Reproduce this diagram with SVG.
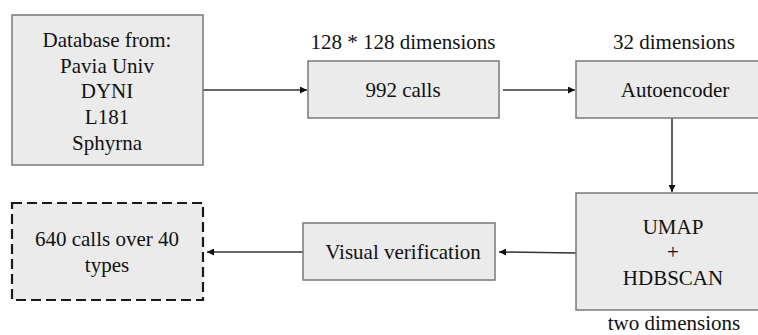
<svg xmlns="http://www.w3.org/2000/svg" width="758" height="335" viewBox="0 0 758 335">
<style>
.box{fill:#ebebeb;stroke:#7a7a7a;stroke-width:1.5}
.dash{fill:#ebebeb;stroke:#1a1a1a;stroke-width:2.2;stroke-dasharray:10 5}
.t{font-size:21px;fill:#111;text-anchor:middle}
.conn{stroke:#333;stroke-width:1.5;fill:none;marker-end:url(#ah)}
</style>
<defs>
<marker id="ah" viewBox="0 0 10 10" refX="10" refY="5" markerWidth="9" markerHeight="7" markerUnits="userSpaceOnUse" orient="auto">
<path d="M0,0 L10,5 L0,10 Z" fill="#111"/>
</marker>
</defs>
<rect width="758" height="335" fill="#fff"/>
<g id="connectors">
<line class="conn" x1="203" y1="90" x2="307" y2="90"/>
<line class="conn" x1="503" y1="90" x2="575" y2="90"/>
<line class="conn" x1="672" y1="118" x2="672" y2="192"/>
<line class="conn" x1="576" y1="253" x2="499" y2="252"/>
<line class="conn" x1="303" y1="252" x2="207" y2="252"/>
</g>
<g font-family="Liberation Serif, Times New Roman, DejaVu Serif, serif">
<g id="database">
<rect class="box" x="12" y="15" width="191" height="150"/>
<text class="t" x="107" y="47">Database from:</text>
<text class="t" x="107" y="73">Pavia Univ</text>
<text class="t" x="107" y="98">DYNI</text>
<text class="t" x="107" y="124">L181</text>
<text class="t" x="107" y="150">Sphyrna</text>
</g>
<g id="calls">
<text class="t" x="403" y="49">128 * 128 dimensions</text>
<rect class="box" x="308" y="61" width="191" height="57"/>
<text class="t" x="403" y="97">992 calls</text>
</g>
<g id="autoencoder">
<text class="t" x="674" y="49">32 dimensions</text>
<rect class="box" x="576" y="61" width="200" height="57"/>
<text class="t" x="675" y="97">Autoencoder</text>
</g>
<g id="umap">
<rect class="box" x="576" y="193" width="200" height="117"/>
<text class="t" x="673" y="234">UMAP</text>
<text class="t" x="673" y="259">+</text>
<text class="t" x="673" y="285">HDBSCAN</text>
<text class="t" x="674" y="330">two dimensions</text>
</g>
<g id="visual">
<rect class="box" x="303" y="223" width="192" height="57"/>
<text class="t" x="403" y="259">Visual verification</text>
</g>
<g id="result">
<rect class="dash" x="12" y="203" width="191" height="97"/>
<text class="t" x="107" y="246">640 calls over 40</text>
<text class="t" x="107" y="272">types</text>
</g>
</g>
</svg>
